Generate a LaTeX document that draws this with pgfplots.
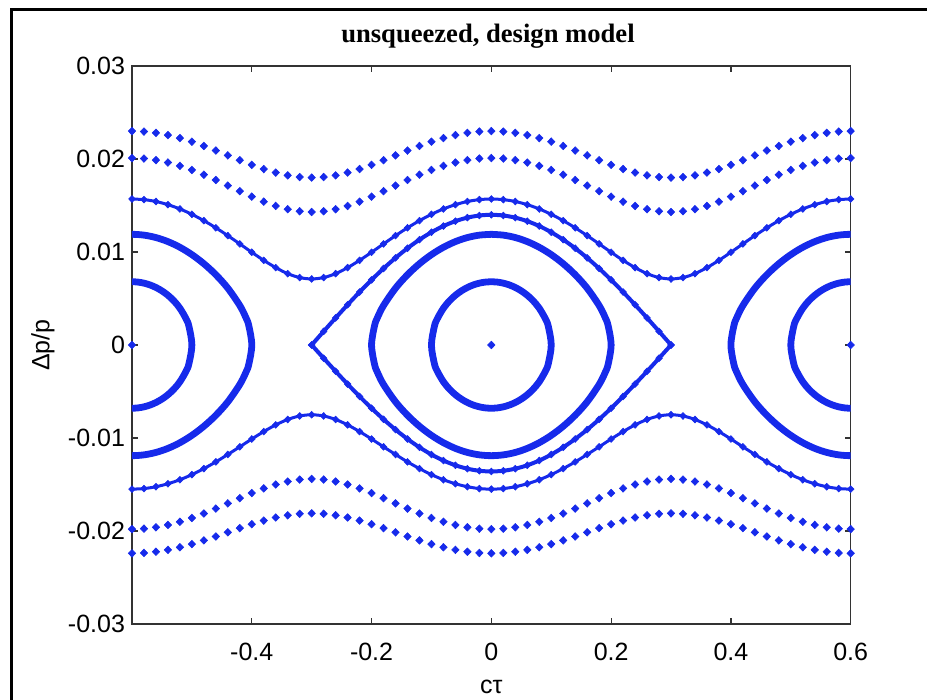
\documentclass[border=0pt]{standalone}
\usepackage{fontspec}
\setmainfont{Liberation Sans}
\newfontfamily\titlefont{Liberation Serif}
\usepackage{pgfplots}
\usepackage{pgfplotstable}
\pgfplotsset{compat=1.18}
\definecolor{mblue}{RGB}{22,42,235}

% rotating (open) orbits: A, B, C above (t) and below (b)
\pgfplotstableread{
x at ab bt bb ct cb
-0.60 0.02300 -0.02240 0.02010 -0.01980 0.01570 -0.01550
-0.58 0.02295 -0.02236 0.02005 -0.01975 0.01563 -0.01544
-0.56 0.02281 -0.02223 0.01988 -0.01960 0.01543 -0.01524
-0.54 0.02257 -0.02203 0.01962 -0.01935 0.01509 -0.01492
-0.52 0.02225 -0.02175 0.01926 -0.01901 0.01463 -0.01449
-0.50 0.02186 -0.02141 0.01882 -0.01860 0.01405 -0.01394
-0.48 0.02140 -0.02101 0.01831 -0.01812 0.01337 -0.01329
-0.46 0.02091 -0.02059 0.01774 -0.01759 0.01260 -0.01257
-0.44 0.02039 -0.02014 0.01714 -0.01703 0.01176 -0.01177
-0.42 0.01987 -0.01969 0.01654 -0.01647 0.01087 -0.01095
-0.40 0.01937 -0.01927 0.01595 -0.01592 0.00997 -0.01011
-0.38 0.01892 -0.01888 0.01541 -0.01542 0.00910 -0.00931
-0.36 0.01854 -0.01855 0.01495 -0.01500 0.00832 -0.00859
-0.34 0.01824 -0.01831 0.01460 -0.01468 0.00767 -0.00801
-0.32 0.01806 -0.01815 0.01438 -0.01447 0.00725 -0.00763
-0.30 0.01800 -0.01810 0.01430 -0.01440 0.00710 -0.00750
-0.28 0.01806 -0.01815 0.01438 -0.01447 0.00725 -0.00763
-0.26 0.01824 -0.01831 0.01460 -0.01468 0.00767 -0.00801
-0.24 0.01854 -0.01855 0.01495 -0.01500 0.00832 -0.00859
-0.22 0.01892 -0.01888 0.01541 -0.01542 0.00910 -0.00931
-0.20 0.01937 -0.01927 0.01595 -0.01592 0.00997 -0.01011
-0.18 0.01987 -0.01969 0.01654 -0.01647 0.01087 -0.01095
-0.16 0.02039 -0.02014 0.01714 -0.01703 0.01176 -0.01177
-0.14 0.02091 -0.02059 0.01774 -0.01759 0.01260 -0.01257
-0.12 0.02140 -0.02101 0.01831 -0.01812 0.01337 -0.01329
-0.10 0.02186 -0.02141 0.01882 -0.01860 0.01405 -0.01394
-0.08 0.02225 -0.02175 0.01926 -0.01901 0.01463 -0.01449
-0.06 0.02257 -0.02203 0.01962 -0.01935 0.01509 -0.01492
-0.04 0.02281 -0.02223 0.01988 -0.01960 0.01543 -0.01524
-0.02 0.02295 -0.02236 0.02005 -0.01975 0.01563 -0.01544
0.00 0.02300 -0.02240 0.02010 -0.01980 0.01570 -0.01550
0.02 0.02295 -0.02236 0.02005 -0.01975 0.01563 -0.01544
0.04 0.02281 -0.02223 0.01988 -0.01960 0.01543 -0.01524
0.06 0.02257 -0.02203 0.01962 -0.01935 0.01509 -0.01492
0.08 0.02225 -0.02175 0.01926 -0.01901 0.01463 -0.01449
0.10 0.02186 -0.02141 0.01882 -0.01860 0.01405 -0.01394
0.12 0.02140 -0.02101 0.01831 -0.01812 0.01337 -0.01329
0.14 0.02091 -0.02059 0.01774 -0.01759 0.01260 -0.01257
0.16 0.02039 -0.02014 0.01714 -0.01703 0.01176 -0.01177
0.18 0.01987 -0.01969 0.01654 -0.01647 0.01087 -0.01095
0.20 0.01937 -0.01927 0.01595 -0.01592 0.00997 -0.01011
0.22 0.01892 -0.01888 0.01541 -0.01542 0.00910 -0.00931
0.24 0.01854 -0.01855 0.01495 -0.01500 0.00832 -0.00859
0.26 0.01824 -0.01831 0.01460 -0.01468 0.00767 -0.00801
0.28 0.01806 -0.01815 0.01438 -0.01447 0.00725 -0.00763
0.30 0.01800 -0.01810 0.01430 -0.01440 0.00710 -0.00750
0.32 0.01806 -0.01815 0.01438 -0.01447 0.00725 -0.00763
0.34 0.01824 -0.01831 0.01460 -0.01468 0.00767 -0.00801
0.36 0.01854 -0.01855 0.01495 -0.01500 0.00832 -0.00859
0.38 0.01892 -0.01888 0.01541 -0.01542 0.00910 -0.00931
0.40 0.01937 -0.01927 0.01595 -0.01592 0.00997 -0.01011
0.42 0.01987 -0.01969 0.01654 -0.01647 0.01087 -0.01095
0.44 0.02039 -0.02014 0.01714 -0.01703 0.01176 -0.01177
0.46 0.02091 -0.02059 0.01774 -0.01759 0.01260 -0.01257
0.48 0.02140 -0.02101 0.01831 -0.01812 0.01337 -0.01329
0.50 0.02186 -0.02141 0.01882 -0.01860 0.01405 -0.01394
0.52 0.02225 -0.02175 0.01926 -0.01901 0.01463 -0.01449
0.54 0.02257 -0.02203 0.01962 -0.01935 0.01509 -0.01492
0.56 0.02281 -0.02223 0.01988 -0.01960 0.01543 -0.01524
0.58 0.02295 -0.02236 0.02005 -0.01975 0.01563 -0.01544
0.60 0.02300 -0.02240 0.02010 -0.01980 0.01570 -0.01550
}\tabOrb

% separatrix of the central bucket
\pgfplotstableread{
x st sb
-0.30 0.000000 -0.000000
-0.28 0.001463 -0.001422
-0.26 0.002911 -0.002828
-0.24 0.004326 -0.004203
-0.22 0.005694 -0.005532
-0.20 0.007000 -0.006800
-0.18 0.008229 -0.007994
-0.16 0.009368 -0.009100
-0.14 0.010404 -0.010107
-0.12 0.011326 -0.011003
-0.10 0.012124 -0.011778
-0.08 0.012790 -0.012424
-0.06 0.013315 -0.012934
-0.04 0.013694 -0.013303
-0.02 0.013923 -0.013525
0.00 0.014000 -0.013600
0.02 0.013923 -0.013525
0.04 0.013694 -0.013303
0.06 0.013315 -0.012934
0.08 0.012790 -0.012424
0.10 0.012124 -0.011778
0.12 0.011326 -0.011003
0.14 0.010404 -0.010107
0.16 0.009368 -0.009100
0.18 0.008229 -0.007994
0.20 0.007000 -0.006800
0.22 0.005694 -0.005532
0.24 0.004326 -0.004203
0.26 0.002911 -0.002828
0.28 0.001463 -0.001422
0.30 0.000000 -0.000000
}\tabSep

\pgfplotsset{
  orbdot/.style={only marks, mark=diamond*, mark size=1.9pt,
    mark options={xscale=1.3, line width=0.3pt, mblue, fill=mblue}},
  orbbead/.style={mblue, smooth, line width=1.5pt, mark=diamond*, mark size=1.7pt,
    mark options={xscale=1.3, line width=0.3pt, solid, fill=mblue}},
  orbring/.style={mblue, smooth, tension=0.55, line width=3.4pt, line join=round, line cap=round},
}

\begin{document}
\begin{tikzpicture}
\useasboundingbox (-66pt,-38pt) rectangle (397.5pt,312pt);
\draw[black, line width=1.4pt] (-60.15pt,-40pt) -- (-60.15pt,307.3pt) -- (400pt,307.3pt);
\node[anchor=base, inner sep=0pt, font=\titlefont\bfseries\fontsize{13.3}{15}\selectfont] at (178pt,290.5pt) {unsqueezed, design model};
\begin{axis}[
  at={(0,0)}, anchor=south west,
  scale only axis, width=359.35pt, height=279pt,
  xmin=-0.6, xmax=0.6, ymin=-0.03, ymax=0.03,
  xtick={-0.4,-0.2,0,0.2,0.4,0.6},
  ytick={-0.03,-0.02,-0.01,0,0.01,0.02,0.03},
  scaled ticks=false,
  tick align=inside, major tick length=3pt,
  /pgf/number format/assume math mode=true,
  xticklabel style={/pgf/number format/fixed, font=\fontsize{12.5}{14}\selectfont, anchor=base, yshift=-18.5pt},
  yticklabel style={/pgf/number format/fixed, /pgf/number format/precision=2, font=\fontsize{12.5}{14}\selectfont},
  axis line style={black!80, line width=0.6pt},
  every tick/.style={black!80, line width=0.6pt},
  xlabel={cτ},
  xlabel style={at={(axis description cs:0.5,-0.1237)}, anchor=base, font=\fontsize{12.5}{14}\selectfont},
  ylabel={Δp/p},
  ylabel style={at={(axis description cs:-0.1238,0.5)}, anchor=center, font=\fontsize{12.5}{14}\selectfont},
  clip=true,
]
% closed orbits around the central fixed point
\addplot[orbring] coordinates {
(0,0.0068) (0.01,0.006763) (0.02,0.006650) (0.03,0.006459) (0.04,0.006184) (0.05,0.005818) (0.06,0.005346) (0.07,0.004742) (0.08,0.003955) (0.09,0.002849) (0.095,0.002032) (0.1,0)
(0.095,-0.002032) (0.09,-0.002849) (0.08,-0.003955) (0.07,-0.004742) (0.06,-0.005346) (0.05,-0.005818) (0.04,-0.006184) (0.03,-0.006459) (0.02,-0.006650) (0.01,-0.006763) (0,-0.0068)
(-0.01,-0.006763) (-0.02,-0.006650) (-0.03,-0.006459) (-0.04,-0.006184) (-0.05,-0.005818) (-0.06,-0.005346) (-0.07,-0.004742) (-0.08,-0.003955) (-0.09,-0.002849) (-0.095,-0.002032) (-0.1,0)
(-0.095,0.002032) (-0.09,0.002849) (-0.08,0.003955) (-0.07,0.004742) (-0.06,0.005346) (-0.05,0.005818) (-0.04,0.006184) (-0.03,0.006459) (-0.02,0.006650) (-0.01,0.006763) (0,0.0068)
};
\addplot[orbring] coordinates {
(0,0.0119) (0.02,0.011813) (0.04,0.011552) (0.06,0.011117) (0.08,0.010506) (0.10,0.009716) (0.12,0.008739) (0.14,0.007555) (0.16,0.006110) (0.18,0.004246) (0.19,0.002967) (0.195,0.002084) (0.2,0)
(0.195,-0.002084) (0.19,-0.002967) (0.18,-0.004246) (0.16,-0.006110) (0.14,-0.007555) (0.12,-0.008739) (0.10,-0.009716) (0.08,-0.010506) (0.06,-0.011117) (0.04,-0.011552) (0.02,-0.011813) (0,-0.0119)
(-0.02,-0.011813) (-0.04,-0.011552) (-0.06,-0.011117) (-0.08,-0.010506) (-0.10,-0.009716) (-0.12,-0.008739) (-0.14,-0.007555) (-0.16,-0.006110) (-0.18,-0.004246) (-0.19,-0.002967) (-0.195,-0.002084) (-0.2,0)
(-0.195,0.002084) (-0.19,0.002967) (-0.18,0.004246) (-0.16,0.006110) (-0.14,0.007555) (-0.12,0.008739) (-0.10,0.009716) (-0.08,0.010506) (-0.06,0.011117) (-0.04,0.011552) (-0.02,0.011813) (0,0.0119)
};
% closed orbits around the neighbouring fixed points at -0.6 and +0.6
\addplot[orbring] coordinates {
(-0.62,0.006650) (-0.61,0.006763) (-0.6,0.0068) (-0.59,0.006763) (-0.58,0.006650) (-0.57,0.006459) (-0.56,0.006184) (-0.55,0.005818) (-0.54,0.005346) (-0.53,0.004742) (-0.52,0.003955) (-0.51,0.002849) (-0.505,0.002032) (-0.5,0)
(-0.505,-0.002032) (-0.51,-0.002849) (-0.52,-0.003955) (-0.53,-0.004742) (-0.54,-0.005346) (-0.55,-0.005818) (-0.56,-0.006184) (-0.57,-0.006459) (-0.58,-0.006650) (-0.59,-0.006763) (-0.6,-0.0068) (-0.61,-0.006763) (-0.62,-0.006650)
};
\addplot[orbring] coordinates {
(0.62,0.006650) (0.61,0.006763) (0.6,0.0068) (0.59,0.006763) (0.58,0.006650) (0.57,0.006459) (0.56,0.006184) (0.55,0.005818) (0.54,0.005346) (0.53,0.004742) (0.52,0.003955) (0.51,0.002849) (0.505,0.002032) (0.5,0)
(0.505,-0.002032) (0.51,-0.002849) (0.52,-0.003955) (0.53,-0.004742) (0.54,-0.005346) (0.55,-0.005818) (0.56,-0.006184) (0.57,-0.006459) (0.58,-0.006650) (0.59,-0.006763) (0.6,-0.0068) (0.61,-0.006763) (0.62,-0.006650)
};
\addplot[orbring] coordinates {
(-0.64,0.011552) (-0.62,0.011813) (-0.6,0.0119) (-0.58,0.011813) (-0.56,0.011552) (-0.54,0.011117) (-0.52,0.010506) (-0.50,0.009716) (-0.48,0.008739) (-0.46,0.007555) (-0.44,0.006110) (-0.42,0.004246) (-0.41,0.002967) (-0.405,0.002084) (-0.4,0)
(-0.405,-0.002084) (-0.41,-0.002967) (-0.42,-0.004246) (-0.44,-0.006110) (-0.46,-0.007555) (-0.48,-0.008739) (-0.50,-0.009716) (-0.52,-0.010506) (-0.54,-0.011117) (-0.56,-0.011552) (-0.58,-0.011813) (-0.6,-0.0119) (-0.62,-0.011813) (-0.64,-0.011552)
};
\addplot[orbring] coordinates {
(0.64,0.011552) (0.62,0.011813) (0.6,0.0119) (0.58,0.011813) (0.56,0.011552) (0.54,0.011117) (0.52,0.010506) (0.50,0.009716) (0.48,0.008739) (0.46,0.007555) (0.44,0.006110) (0.42,0.004246) (0.41,0.002967) (0.405,0.002084) (0.4,0)
(0.405,-0.002084) (0.41,-0.002967) (0.42,-0.004246) (0.44,-0.006110) (0.46,-0.007555) (0.48,-0.008739) (0.50,-0.009716) (0.52,-0.010506) (0.54,-0.011117) (0.56,-0.011552) (0.58,-0.011813) (0.6,-0.0119) (0.62,-0.011813) (0.64,-0.011552)
};
% separatrix
\addplot[orbbead, line width=2pt] table[x=x, y=st] {\tabSep};
\addplot[orbbead, line width=2pt] table[x=x, y=sb] {\tabSep};
% rotating orbits
\addplot[orbbead] table[x=x, y=ct] {\tabOrb};
\addplot[orbbead] table[x=x, y=cb] {\tabOrb};
\addplot[orbdot] table[x=x, y=bt] {\tabOrb};
\addplot[orbdot] table[x=x, y=bb] {\tabOrb};
\addplot[orbdot] table[x=x, y=at] {\tabOrb};
\addplot[orbdot] table[x=x, y=ab] {\tabOrb};
% fixed points
\addplot[orbdot] coordinates {(-0.6,0) (0,0) (0.6,0)};
\end{axis}
\end{tikzpicture}
\end{document}
